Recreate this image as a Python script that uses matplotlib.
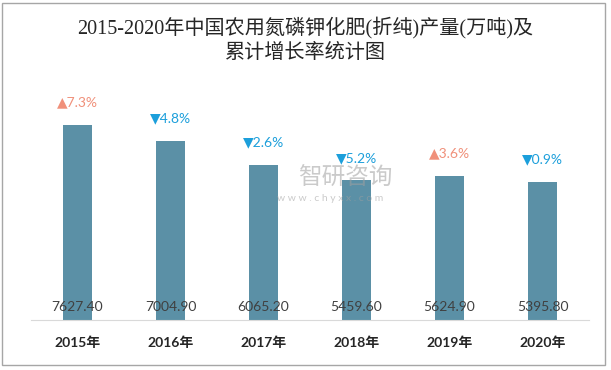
import matplotlib
matplotlib.use('Agg')
import matplotlib.pyplot as plt
from matplotlib.patches import Rectangle

plt.rcParams['font.family'] = ['Lato', 'DejaVu Sans', 'Noto Sans CJK SC']

years = ['2015年', '2016年', '2017年', '2018年', '2019年', '2020年']
output = [7627.40, 7004.90, 6065.20, 5459.60, 5624.90, 5395.80]
growth = [7.3, -4.8, -2.6, -5.2, 3.6, -0.9]

bar_color = '#5B90A6'
up_color = '#F0907A'
down_color = '#1C9FDB'

fig = plt.figure(figsize=(6.11, 3.70), dpi=100)
fig.patches.append(Rectangle((0.004, 0.013), 0.986, 0.98, transform=fig.transFigure,
                             fill=False, edgecolor='#A6A6A6', linewidth=1))

ax = fig.add_axes([31 / 611, 50 / 370, 558 / 611, 230 / 370])
x = range(len(years))
ax.bar(x, output, width=0.32, color=bar_color)
ax.set_xlim(-0.5, len(years) - 0.5)
ax.set_ylim(0, 9000)

for i, v in enumerate(output):
    ax.text(i, 13 / 230 * 9000, '%.2f' % v, ha='center', va='center',
            fontsize=10, color='#404040')
    g = growth[i]
    if g >= 0:
        s, c = '▲%.1f%%' % g, up_color
    else:
        s, c = '▼%.1f%%' % abs(g), down_color
    ax.annotate(s, (i, v), xytext=(0, 12), textcoords='offset points',
                ha='center', va='bottom', fontsize=10, color=c)

ax.set_xticks(list(x))
ax.set_xticklabels(years, fontsize=10, fontweight='bold', color='#262626')
ax.tick_params(axis='x', length=0, pad=12)
ax.set_yticks([])
for side in ['left', 'right', 'top']:
    ax.spines[side].set_visible(False)
ax.spines['bottom'].set_color('#D9D9D9')

# watermark, drawn over the bars
fig.text(345 / 611, 1 - 178 / 370, '智研咨询', ha='center', va='center',
         fontsize=17, color='#A0A0A0', alpha=0.55, family='Noto Sans CJK SC', zorder=5)
fig.text(330 / 611, 1 - 199 / 370, 'w w w . c h y x x . c o m', ha='center',
         va='center', fontsize=7.5, color='#A0A0A0', alpha=0.55, zorder=5)

title_font = ['Liberation Serif', 'Noto Sans CJK SC']
fig.text(0.5, 1 - 28 / 370, '2015-2020年中国农用氮磷钾化肥(折纯)产量(万吨)及',
         ha='center', va='center', fontsize=14.5, family=title_font, color='#262626')
fig.text(0.5, 1 - 53 / 370, '累计增长率统计图',
         ha='center', va='center', fontsize=14.5, family=title_font, color='#262626')

fig.savefig('out.png', dpi=100)
